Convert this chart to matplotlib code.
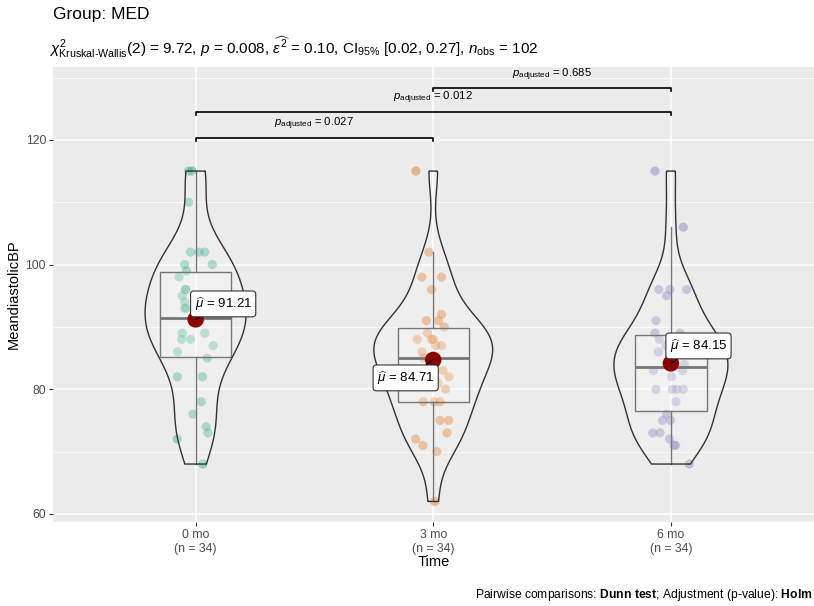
import numpy as np
import matplotlib
matplotlib.use("Agg")
import matplotlib.pyplot as plt

# ---------------- data ----------------
categories = ["0 mo", "3 mo", "6 mo"]

values_0mo = [115, 115, 110, 102, 102, 102, 100, 100, 99, 98, 96, 96, 95, 94, 93, 93,
              92, 91, 91, 89, 89, 88, 88, 87, 86, 85, 82, 82, 78, 76, 74, 73, 72, 68]
values_3mo = [115, 102, 98, 98, 96, 92, 91, 91, 90, 89, 88, 88, 87, 87, 86, 85, 85, 85,
              88, 81, 81, 83, 82, 80, 78, 78, 78, 75, 75, 73, 72, 71, 70, 62]
values_6mo = [115, 106, 96, 96, 96, 95, 91, 89, 89, 88, 88, 87, 86, 86, 85, 84, 84, 83,
              83, 82, 80, 80, 80, 80, 78, 76, 75, 75, 73, 73, 72, 71, 71, 68]

# horizontal jitter offsets, same order as the values
jitter_0mo = [-0.029, -0.015, -0.029, -0.022, 0.014, 0.039, -0.046, 0.070, -0.038, -0.070,
              -0.044, -0.040, -0.056, -0.046, -0.046, -0.040, 0.005, -0.010, 0.020, -0.056,
              0.038, -0.059, -0.021, 0.074, -0.076, 0.049, -0.077, 0.029, 0.024, -0.011,
              0.045, 0.052, -0.077, 0.031]
jitter_3mo = [-0.073, -0.018, -0.048, 0.035, -0.007, 0.035, -0.029, 0.022, 0.046, -0.024,
              -0.067, -0.007, 0.010, 0.035, -0.048, -0.041, 0.010, -0.020, 0.000, 0.020,
              -0.010, 0.041, 0.066, 0.052, -0.042, 0.004, 0.029, 0.028, 0.065, 0.058,
              -0.074, -0.044, 0.015, 0.006]
jitter_6mo = [-0.067, 0.052, -0.051, -0.004, 0.066, -0.018, -0.063, -0.067, 0.038, -0.049,
              0.030, -0.020, -0.052, 0.010, -0.005, 0.056, 0.015, -0.074, 0.049, 0.003,
              -0.063, 0.006, 0.052, 0.025, 0.021, -0.018, -0.036, -0.001, -0.077, -0.046,
              -0.006, 0.013, 0.020, 0.077]

pairs = [(0, 1), (0, 2), (1, 2)]
pair_p = ["0.027", "0.012", "0.685"]
pair_y = [120.37, 124.5, 128.3]

title = "Group: MED"
subtitle = (r"$\chi^{2}_{\text{Kruskal-Wallis}}$(2) = 9.72, $p$ = 0.008, "
            r"$\widehat{\varepsilon^{2}}$ = 0.10, CI$_{95\%}$ [0.02, 0.27], "
            r"$n_{\text{obs}}$ = 102")
caption = r"Pairwise comparisons: $\mathbf{Dunn\ test}$; Adjustment (p-value): $\mathbf{Holm}$"

groups = [values_0mo, values_3mo, values_6mo]
jitters = [jitter_0mo, jitter_3mo, jitter_6mo]
colors = ["#1B9E77", "#D95F02", "#7570B3"]
label_pos = [(0.116, 93.69), (0.884, 81.82), (2.116, 86.95)]

# ---------------- style ----------------
plt.rcParams["font.family"] = ["Liberation Sans", "DejaVu Sans"]
plt.rcParams["mathtext.fontset"] = "custom"
plt.rcParams["mathtext.rm"] = "Liberation Sans"
plt.rcParams["mathtext.it"] = "Liberation Sans:italic"
plt.rcParams["mathtext.bf"] = "Liberation Sans:bold"
plt.rcParams["mathtext.sf"] = "Liberation Sans"

W, H = 814, 606
fig = plt.figure(figsize=(W / 100, H / 100), dpi=100)
left, right, top, bottom = 53, 813.5, 67, 522
ax = fig.add_axes([left / W, 1 - bottom / H, (right - left) / W, (bottom - top) / H])
ax.set_facecolor("#EBEBEB")
for s in ax.spines.values():
    s.set_visible(False)
ax.set_xlim(-0.6, 2.6)
ax.set_ylim(58.7, 131.7)
ax.set_yticks([60, 80, 100, 120])
ax.set_yticks([70, 90, 110, 130], minor=True)
ax.set_xticks(range(len(categories)))
ax.set_xticklabels([f"{c}\n(n = {len(v)})" for c, v in zip(categories, groups)])
ax.grid(which="major", color="white", linewidth=1.1)
ax.grid(which="minor", axis="y", color="white", linewidth=0.55)
ax.set_axisbelow(True)
ax.tick_params(axis="both", which="major", length=3, width=0.8, color="#333333",
               labelcolor="#4D4D4D", labelsize=8.8, pad=2)
ax.tick_params(which="minor", length=0)


def nrd0(x):
    x = np.asarray(x, float)
    sd = x.std(ddof=1)
    q75, q25 = np.percentile(x, [75, 25])
    lo = min(sd, (q75 - q25) / 1.34)
    return 0.9 * lo * len(x) ** (-0.2)


def kde(x):
    x = np.asarray(x, float)
    bw = nrd0(x)
    g = np.linspace(x.min(), x.max(), 512)
    d = np.exp(-0.5 * ((g[:, None] - x[None, :]) / bw) ** 2).sum(1) / (len(x) * bw * np.sqrt(2 * np.pi))
    return g, d


dens = [kde(v) for v in groups]
dmax = max(d.max() for _, d in dens)

for i, (vals, jit, col) in enumerate(zip(groups, jitters, colors)):
    vals = np.asarray(vals, float)
    # jittered points
    ax.scatter(i + np.asarray(jit), vals, s=44, color=col, alpha=0.4, edgecolors="none", zorder=2)
    # box
    q1, med, q3 = np.percentile(vals, [25, 50, 75])
    iqr = q3 - q1
    hi = vals[vals <= q3 + 1.5 * iqr].max()
    lo = vals[vals >= q1 - 1.5 * iqr].min()
    bw_ = 0.15
    ax.add_patch(plt.Rectangle((i - bw_, q1), 2 * bw_, q3 - q1, facecolor=(1, 1, 1, 0.2),
                               edgecolor="#555555", linewidth=1.0, zorder=3))
    ax.plot([i - bw_, i + bw_], [med, med], color="#555555", linewidth=2.0, zorder=3,
            solid_capstyle="butt")
    ax.plot([i, i], [q3, hi], color="#555555", linewidth=1.0, zorder=3)
    ax.plot([i, i], [lo, q1], color="#555555", linewidth=1.0, zorder=3)
    # violin
    g, d = dens[i]
    half = 0.25 * d / dmax
    xs = np.concatenate([i - half, (i + half)[::-1]])
    ys = np.concatenate([g, g[::-1]])
    ax.fill(xs, ys, facecolor=(1, 1, 1, 0.2), edgecolor="#333333", linewidth=1.0, zorder=4)
    # mean
    m = vals.mean()
    ax.scatter([i], [m], s=140, color="#8B0000", edgecolors="none", zorder=5)
    lx, ly = label_pos[i]
    ax.annotate(r"$\widehat{\mu}$ = " + f"{m:.2f}", xy=(i, m), xytext=(lx, ly),
                ha="center", va="center", fontsize=9.5, zorder=6,
                bbox=dict(boxstyle="round,pad=0.3,rounding_size=0.25", fc="white",
                          ec="#333333", lw=0.8),
                arrowprops=dict(arrowstyle="-", color="black", lw=0.9, shrinkA=0, shrinkB=0))

# significance brackets
tip = 0.5
for (a, b), p, y in zip(pairs, pair_p, pair_y):
    ax.plot([a, a, b, b], [y - tip, y, y, y - tip], color="black", linewidth=1.2, zorder=6,
            clip_on=False)
    ax.text((a + b) / 2, y + 0.9, r"$p_{\text{adjusted}}$ = " + p, ha="center", va="bottom",
            fontsize=8.2, zorder=6)

# titles
fig.text(left / W, 1 - 15 / H, title, fontsize=12.5, va="center", ha="left")
fig.text(49 / W, 1 - 47 / H, subtitle, fontsize=11, va="center", ha="left")
fig.text(14 / W, 1 - (top + bottom) / 2 / H, "MeandiastolicBP", rotation=90, fontsize=10.5,
         va="center", ha="center")
fig.text((left + right) / 2 / W, 1 - 562 / H, "Time", fontsize=10.5, va="center", ha="center")
fig.text(813 / W, 1 - 595 / H, caption, fontsize=8.7, va="center", ha="right")

fig.savefig("out.png", dpi=100)
